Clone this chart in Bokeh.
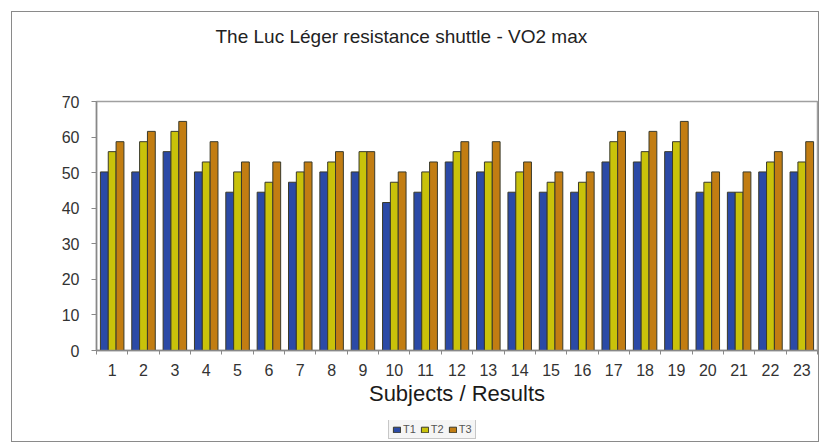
from bokeh.plotting import figure
from bokeh.models import ColumnDataSource, Range1d, FixedTicker, Legend, LegendItem, Label
from bokeh.layouts import column
from bokeh.transform import dodge
from bokeh.embed import file_html
from bokeh.resources import INLINE

subjects = list(range(1, 24))
t1 = [50.2, 50.2, 55.9, 50.2, 44.5, 44.5, 47.3, 50.2, 50.2, 41.6, 44.5, 53.0,
      50.2, 44.5, 44.5, 44.5, 53.0, 53.0, 55.9, 44.5, 44.5, 50.2, 50.2]
t2 = [55.9, 58.7, 61.6, 53.0, 50.2, 47.3, 50.2, 53.0, 55.9, 47.3, 50.2, 55.9,
      53.0, 50.2, 47.3, 47.3, 58.7, 55.9, 58.7, 47.3, 44.5, 53.0, 53.0]
t3 = [58.7, 61.6, 64.4, 58.7, 53.0, 53.0, 53.0, 55.9, 55.9, 50.2, 53.0, 58.7,
      58.7, 53.0, 50.2, 50.2, 61.6, 61.6, 64.4, 50.2, 50.2, 55.9, 58.7]
series_names = ["T1", "T2", "T3"]
y_ticks = [0, 10, 20, 30, 40, 50, 60, 70]
title_text = "The Luc Léger resistance shuttle - VO2 max"

colors = ["#2b4aa6", "#c9c20a", "#c27d12"]
FONT = "Liberation Sans"
W = 806

src = ColumnDataSource(dict(subject=subjects, T1=t1, T2=t2, T3=t3))

# ---- title strip (its frame is aligned with the main frame: x 84..805) ----
TH = 60
tf = figure(width=W, height=TH, output_backend="svg", toolbar_location=None,
            x_range=Range1d(84, 805), y_range=Range1d(0, TH),
            x_axis_type=None, y_axis_type=None, min_border=0)
tf.outline_line_color = None
tf.xgrid.visible = False
tf.ygrid.visible = False
tf.add_layout(Label(x=203, y=36, text=title_text, text_font=FONT, text_font_size="19px",
                    text_color="#222222", text_align="left", text_baseline="middle"))

# ---- main chart ----
p = figure(width=W, height=348, output_backend="svg", toolbar_location=None,
           x_range=Range1d(0.5, 23.5), y_range=Range1d(0, 70),
           min_border_left=84, min_border_right=1, min_border_top=29,
           min_border_bottom=70)

renderers = []
offsets = [-0.25, 0.0, 0.25]
for name, off, col in zip(series_names, offsets, colors):
    r = p.vbar(x=dodge("subject", off, range=p.x_range), top=name, width=0.25,
               source=src, fill_color=col, line_color="#3a3a2a", line_width=1)
    renderers.append(r)

p.xgrid.visible = False
p.ygrid.visible = False
p.outline_line_color = "#a0a0a0"
p.outline_line_width = 1.5

p.xaxis.ticker = FixedTicker(ticks=subjects, minor_ticks=[s + 0.5 for s in [0] + subjects])
p.xaxis.major_tick_line_color = None
p.xaxis.minor_tick_out = 4
p.xaxis.minor_tick_in = 0
p.xaxis.minor_tick_line_color = "#888888"
p.xaxis.major_label_text_font = FONT
p.xaxis.major_label_text_font_size = "16px"
p.xaxis.major_label_text_color = "#333333"
p.xaxis.major_label_standoff = 7
p.xaxis.axis_label = "Subjects / Results"
p.xaxis.axis_label_text_font = FONT
p.xaxis.axis_label_text_font_size = "22px"
p.xaxis.axis_label_text_font_style = "normal"
p.xaxis.axis_label_text_color = "#1a1a1a"
p.xaxis.axis_label_standoff = 2
p.xaxis.axis_line_color = "#888888"
p.xaxis.axis_line_width = 1.5

p.yaxis.ticker = FixedTicker(ticks=y_ticks)
p.yaxis.minor_tick_line_color = None
p.yaxis.major_tick_out = 5
p.yaxis.major_tick_in = 0
p.yaxis.major_tick_line_color = "#888888"
p.yaxis.major_label_text_font = FONT
p.yaxis.major_label_text_font_size = "16px"
p.yaxis.major_label_text_color = "#333333"
p.yaxis.major_label_standoff = 12
p.yaxis.axis_line_color = "#888888"
p.yaxis.axis_line_width = 1.5

# ---- legend strip ----
LH = 21
lf = figure(width=W, height=LH, output_backend="svg", toolbar_location=None,
            x_range=Range1d(0.5, 23.5), y_range=Range1d(0, LH),
            x_axis_type=None, y_axis_type=None, min_border=0)
lf.extra_y_ranges = {"off": Range1d(1000, 2000)}
lf.outline_line_color = None
lf.xgrid.visible = False
lf.ygrid.visible = False
leg_r = [lf.vbar(x="subject", top=name, width=0.25, source=src, y_range_name="off",
                 fill_color=c, line_color="#3a3a2a")
         for name, c in zip(series_names, colors)]
legend = Legend(items=[LegendItem(label=n, renderers=[r]) for n, r in zip(series_names, leg_r)],
                orientation="horizontal", location=(292, 2),
                label_text_font=FONT, label_text_font_size="11px", label_text_color="#555555",
                glyph_width=9, glyph_height=7, label_width=12, spacing=4, padding=3,
                label_standoff=2, margin=0, border_line_color="#999999",
                label_height=9, background_fill_color="#f4f4f4")
lf.add_layout(legend, "center")

layout = column(tf, p, lf, spacing=0)
layout.styles = {"border": "1px solid #8a8a8a", "transform": "translate(11px, 11px)"}

open("out.html", "w").write(file_html(layout, INLINE))
